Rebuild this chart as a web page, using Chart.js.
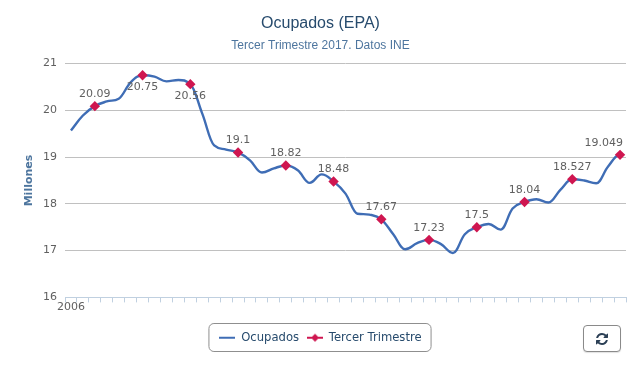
<!DOCTYPE html>
<html><head><meta charset="utf-8">
<style>
html,body{margin:0;padding:0;background:#fff}
#w{position:relative;width:639px;height:373px}
#refresh{position:absolute;left:583px;top:325px;width:38px;height:27px;box-sizing:border-box;border:1px solid #8a8a8a;border-radius:4px;background:#fff;padding:0;box-shadow:0 1px 1px rgba(0,0,0,.12);display:flex;align-items:center;justify-content:center}
</style>
<script src="https://cdn.jsdelivr.net/npm/chart.js@4"></script>
</head><body>
<div id="w"><canvas id="c" width="639" height="373"></canvas>
<button id="refresh" aria-label="Actualizar"><svg width="14" height="14" viewBox="0 0 1792 1792"><path fill="#2b3f55" d="M1639 1056q0 5-1 7-64 268-268 434.5t-478 166.5q-146 0-282.5-55t-243.5-157l-129 129q-19 19-45 19t-45-19-19-45v-448q0-26 19-45t45-19h448q26 0 45 19t19 45-19 45l-137 137q71 66 161 102t187 36q134 0 250-65t186-179q11-17 53-117 8-23 30-23h192q13 0 22.5 9.5t9.5 22.5zm25-800v448q0 26-19 45t-45 19h-448q-26 0-45-19t-19-45 19-45l138-138q-148-137-349-137-134 0-250 65t-186 179q-11 17-53 117-8 23-30 23h-199q-13 0-22.5-9.5t-9.5-22.5v-7q65-268 270-434.5t480-166.5q146 0 284 55.5t245 156.5l130-129q19-19 45-19t45 19 19 45z"/></svg></button>
</div>
<script>
const categories = [
 "2006","2006 T2","2006 T3","2006 T4","2007 T1","2007 T2","2007 T3","2007 T4",
 "2008 T1","2008 T2","2008 T3","2008 T4","2009 T1","2009 T2","2009 T3","2009 T4",
 "2010 T1","2010 T2","2010 T3","2010 T4","2011 T1","2011 T2","2011 T3","2011 T4",
 "2012 T1","2012 T2","2012 T3","2012 T4","2013 T1","2013 T2","2013 T3","2013 T4",
 "2014 T1","2014 T2","2014 T3","2014 T4","2015 T1","2015 T2","2015 T3","2015 T4",
 "2016 T1","2016 T2","2016 T3","2016 T4","2017 T1","2017 T2","2017 T3"];
const ocupados = [
 19.57,19.89,20.09,20.19,20.25,20.6,20.75,20.72,
 20.62,20.65,20.56,19.93,19.25,19.16,19.1,18.93,
 18.67,18.76,18.82,18.72,18.45,18.63,18.48,18.22,
 17.79,17.77,17.67,17.35,17.03,17.16,17.23,17.14,
 16.95,17.35,17.5,17.57,17.45,17.9,18.04,18.1,
 18.03,18.3,18.527,18.5,18.44,18.8,19.049];
const tercerTrimestre = [
 null,null,20.09,null,null,null,20.75,null,
 null,null,20.56,null,null,null,19.1,null,
 null,null,18.82,null,null,null,18.48,null,
 null,null,17.67,null,null,null,17.23,null,
 null,null,17.5,null,null,null,18.04,null,
 null,null,18.527,null,null,null,19.049];
const belowLabels = [20.75,20.56];
const BLUE='#3f6db5', RED='#cf1650', DEJAVU='"DejaVu Sans"';

function legendIcon(color,diamond){
  const k=document.createElement('canvas');k.width=16;k.height=11;
  const x=k.getContext('2d');x.fillStyle=color;x.fillRect(0,4,16,2);
  if(diamond){x.beginPath();x.moveTo(8,1);x.lineTo(12,5);x.lineTo(8,9);x.lineTo(4,5);x.closePath();x.fill();}
  return k;
}
/* Smooth the line with uniform spline tangents: adjusts the control points of the library's own line element. */
const smoothSpline={id:'smoothSpline',beforeDatasetDraw(ch,args){
  if(args.index!==0)return;
  const meta=args.meta,pts=meta.data;
  meta.dataset.updateControlPoints(ch.chartArea);
  const s=1.5,d=s+1;
  pts.forEach((p,i)=>{
    const a=pts[i-1]||p,b=pts[i+1]||p;
    let lx=(s*p.x+a.x)/d,ly=(s*p.y+a.y)/d,rx=(s*p.x+b.x)/d,ry=(s*p.y+b.y)/d;
    if(rx!==lx){const c=((ry-ly)*(rx-p.x))/(rx-lx)+p.y-ry;ly+=c;ry+=c;}
    if(ly>a.y&&ly>p.y){ly=Math.max(a.y,p.y);ry=2*p.y-ly;}
    else if(ly<a.y&&ly<p.y){ly=Math.min(a.y,p.y);ry=2*p.y-ly;}
    if(ry>b.y&&ry>p.y){ry=Math.max(b.y,p.y);ly=2*p.y-ry;}
    else if(ry<b.y&&ry<p.y){ry=Math.min(b.y,p.y);ly=2*p.y-ry;}
    p.cp1x=lx;p.cp1y=ly;p.cp2x=rx;p.cp2y=ry;
  });
}};
const valueLabels={id:'valueLabels',afterDatasetsDraw(ch){
  const m=ch.getDatasetMeta(1),c=ch.ctx;
  c.save();c.font='11px '+DEJAVU;c.fillStyle='#606060';c.textAlign='center';c.textBaseline='middle';
  m.data.forEach((p,i)=>{const v=tercerTrimestre[i];if(v==null)return;
    const below=belowLabels.includes(v),t=String(v);
    /* a label that would pass the plot's right edge is pulled back inside it */
    const half=c.measureText(t).width/2;
    const x=Math.min(p.x,ch.chartArea.right-half-3);
    c.fillText(t,x,p.y+(below?12:-12));});
  c.restore();
}};
const legendBorder={id:'legendBorder',afterDraw(ch){
  const h=ch.legend.legendHitBoxes;if(!h||!h.length)return;
  const l=Math.min(...h.map(b=>b.left))-11,r=Math.max(...h.map(b=>b.left+b.width))+9;
  const c=ch.ctx;c.save();c.strokeStyle='#8f8f8f';c.lineWidth=1;c.beginPath();
  c.roundRect(l+.5,323.5,r-l,28,5);c.stroke();c.restore();
}};
new Chart(document.getElementById('c'),{
 type:'line',
 data:{labels:categories,datasets:[
  {label:'Ocupados',data:ocupados,borderColor:BLUE,backgroundColor:BLUE,borderWidth:2.4,tension:0.4,pointRadius:0,pointHoverRadius:0,order:2},
  {label:'Tercer Trimestre',data:tercerTrimestre,borderColor:RED,backgroundColor:RED,borderWidth:0,showLine:false,pointStyle:'rectRot',pointRadius:5.2,pointBorderWidth:0,pointBackgroundColor:RED,order:1}
 ]},
 plugins:[smoothSpline,valueLabels,legendBorder],
 options:{
  responsive:false,animation:false,
  layout:{padding:{left:15,right:13,top:0,bottom:19}},
  plugins:{
   title:{display:true,text:'Ocupados (EPA)',color:'#274b6d',font:{family:'"Liberation Sans"',size:16,weight:'normal'},padding:{top:14,bottom:5}},
   subtitle:{display:true,text:'Tercer Trimestre 2017. Datos INE',color:'#4d759e',font:{family:'"Liberation Sans"',size:12,weight:'normal'},padding:{top:0,bottom:11}},
   tooltip:{enabled:false},
   legend:{position:'bottom',labels:{color:'#274b6d',font:{family:DEJAVU,size:11.6},usePointStyle:true,pointStyleWidth:16,padding:8,boxHeight:11,
     generateLabels(ch){return ch.data.datasets.map((d,i)=>({text:d.label,datasetIndex:i,fontColor:'#274b6d',strokeStyle:d.borderColor,fillStyle:d.borderColor,lineWidth:0,pointStyle:legendIcon(d.borderColor,i===1)}));}
   }}
  },
  scales:{
   x:{offset:true,
      afterFit(s){s.height=27;},
      border:{color:'#c0d0e0',width:1},
      grid:{offset:true,drawOnChartArea:false,drawTicks:true,tickLength:5,tickColor:'#c0d0e0',tickWidth:1},
      ticks:{autoSkip:false,maxRotation:0,minRotation:0,padding:-2,color:'#606060',font:{family:DEJAVU,size:11},
        callback(v,i){return i===0?categories[0]:'';}}},
   y:{min:16,max:21,
      afterFit(s){s.width=50;},
      border:{display:false},
      grid:{color:c=>c.tick&&c.tick.value===16?'rgba(0,0,0,0)':'#c0c0c0',lineWidth:1,drawTicks:false},
      ticks:{stepSize:1,padding:8,color:'#606060',font:{family:DEJAVU,size:11}},
      title:{display:true,text:'Millones',color:'#4d759e',font:{family:DEJAVU,size:11,weight:'bold'},padding:{top:8,bottom:0}}}
  }
 }
});
</script>
</body></html>
